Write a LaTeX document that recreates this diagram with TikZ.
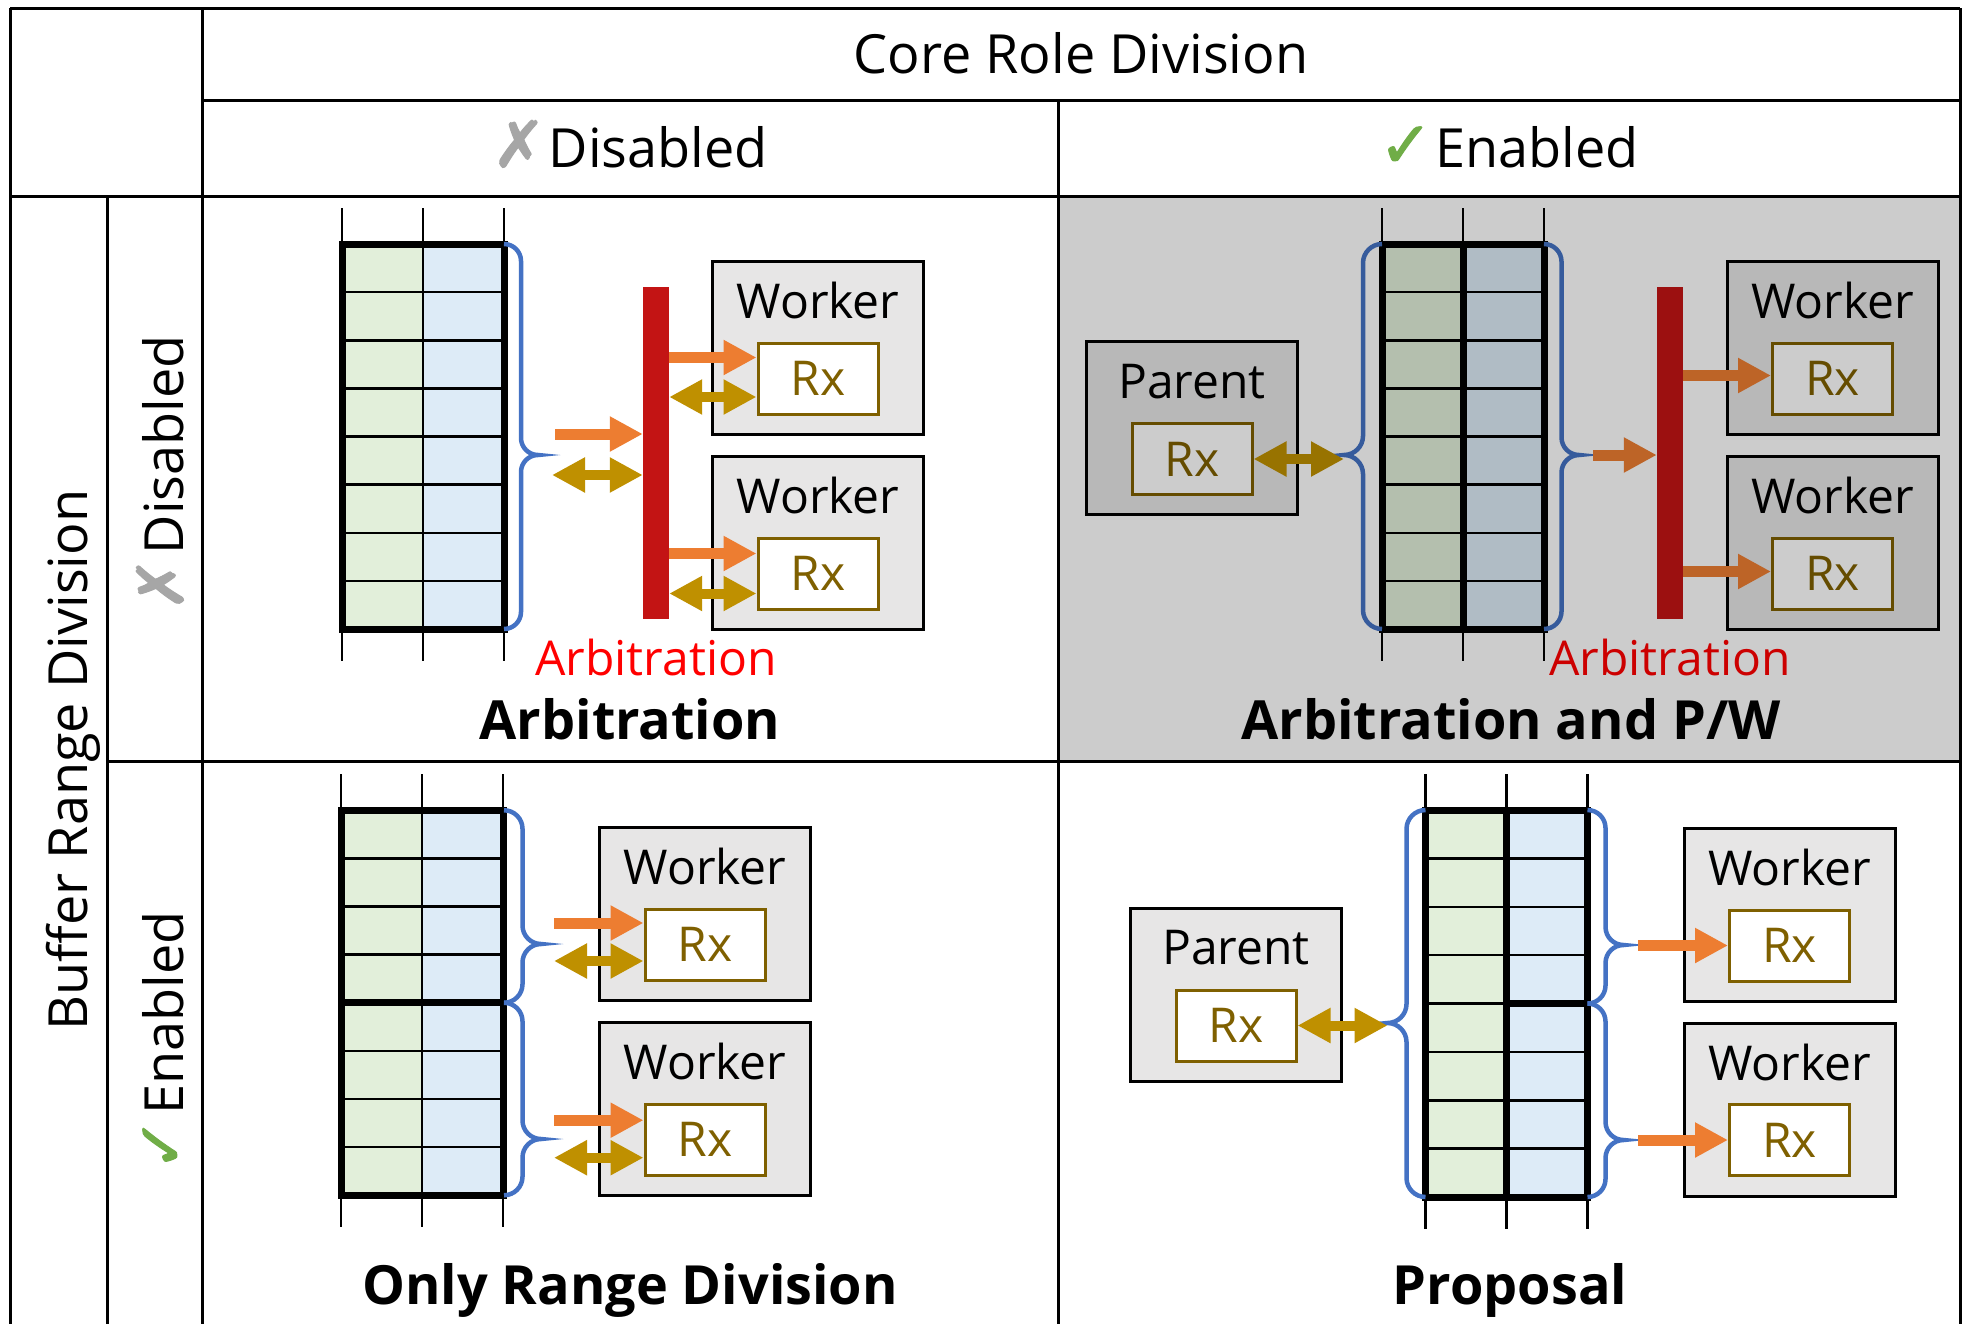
\documentclass[tikz,border=0pt]{standalone}
\usepackage{fontspec}
\setmainfont{Open Sans}
\newfontfamily\symbolfont[FakeBold=1.6]{DejaVu Sans}
\usetikzlibrary{arrows.meta,calc}

\definecolor{cellgreen}{RGB}{226,239,218}
\definecolor{cellblue}{RGB}{221,235,247}
\definecolor{bracecol}{RGB}{68,114,196}
\definecolor{arbred}{RGB}{195,20,20}
\definecolor{fwdorange}{RGB}{237,125,49}
\definecolor{syncgold}{RGB}{191,144,0}
\definecolor{rxbrown}{RGB}{127,96,0}
\definecolor{boxgray}{RGB}{231,230,230}
\definecolor{crossgray}{RGB}{166,166,166}
\definecolor{tickgreen}{RGB}{112,173,71}

\newcommand\cellfnt{\fontsize{48}{56}\selectfont}
\newcommand\hdrfnt{\fontsize{54}{62}\selectfont}
\newcommand\ttlfnt{\fontsize{54}{62}\selectfont\bfseries}
\newcommand\crossmk{{\symbolfont\fontsize{64}{64}\selectfont\color{crossgray}✗}\hspace{3pt}}
\newcommand\checkmk{{\symbolfont\fontsize{64}{64}\selectfont\color{tickgreen}✓}\hspace{3pt}}

\tikzset{
  grid line/.style={line width=3pt},
  cell line/.style={line width=2.5pt},
  buf border/.style={line width=7pt},
  buf tick/.style={line width=2.5pt},
  bufnode/.style={inner sep=0pt, outer sep=0pt, minimum width=162pt, minimum height=385pt},
  corebox/.style={draw, line width=3pt, fill=boxgray, inner sep=0pt,
    minimum width=211pt, minimum height=173pt},
  rxbox/.style={draw=rxbrown, line width=3pt, fill=white, text=rxbrown, inner sep=0pt,
    minimum width=120pt, minimum height=71pt, font=\cellfnt},
  arbbar/.style={fill=arbred, inner sep=0pt, minimum width=26pt, minimum height=332pt},
  brace/.style={draw=bracecol, line width=4.5pt},
  fwd/.style={draw=fwdorange, line width=11pt, -{Triangle[length=33pt,width=33pt]}},
  sync/.style={draw=syncgold, line width=10pt,
    {Triangle[length=33pt,width=33pt]}-{Triangle[length=33pt,width=33pt]}},
  label/.style={anchor=base, font=\cellfnt},
  title/.style={anchor=base, font=\ttlfnt},
  header/.style={anchor=base, font=\hdrfnt},
}

% cells, row lines and ticks of a two-column buffer
\newcommand\bufferbody[3]{%
  \fill[#2] (#1.north west) rectangle (#1.south);
  \fill[#3] (#1.north) rectangle (#1.south east);
  \foreach \k in {1,...,7}
    \draw[cell line] ($(#1.north west)!\k/8!(#1.south west)$) -- ($(#1.north east)!\k/8!(#1.south east)$);
  \foreach \a/\b in {north west/south west,north/south,north east/south east}{
    \draw[buf tick] (#1.\a) -- ++(0,-36);
    \draw[buf tick] (#1.\b) -- ++(0,32);
  }
}

% curly brace: edge x, top y, bottom y, tip y, signed half depth
\newcommand\bracepath[5]{%
  \pgfmathsetmacro\bx{#1}\pgfmathsetmacro\bh{#5}\pgfmathsetmacro\bv{abs(#5)}%
  \draw[brace] ({\bx},{#2})
    .. controls ({\bx+0.55*(\bh)},{#2}) and ({\bx+\bh},{#2+0.45*\bv}) .. ({\bx+\bh},{#2+\bv})
    -- ({\bx+\bh},{#4-\bv})
    .. controls ({\bx+\bh},{#4-0.45*\bv}) and ({\bx+1.45*(\bh)},{#4}) .. ({\bx+2*(\bh)},{#4})
    .. controls ({\bx+1.45*(\bh)},{#4}) and ({\bx+\bh},{#4+0.45*\bv}) .. ({\bx+\bh},{#4+\bv})
    -- ({\bx+\bh},{#3-\bv})
    .. controls ({\bx+\bh},{#3-0.45*\bv}) and ({\bx+0.55*(\bh)},{#3}) .. ({\bx},{#3});
}

\begin{document}
\begin{tikzpicture}[x=1pt,y=-1pt]
\useasboundingbox (0,0) rectangle (1968,1323);
\fill[white] (0,0) rectangle (1968,1323);

% ---------- Arbitration ----------
\path node[bufnode] (bufA) at (423,436.5) {};
\bufferbody{bufA}{cellgreen}{cellblue}
\draw[cell line] (bufA.north) -- (bufA.south);
\draw[buf border] (bufA.north west) rectangle (bufA.south east);
\bracepath{504}{244}{629}{455}{17}
\node[arbbar] (barA) at (656,453) {};
\coordinate (inA) at (555,434);
\coordinate (synA) at (552,475);
\draw[fwd] (inA) -- (inA -| barA.west);
\draw[sync] (synA) -- (synA -| barA.west);
\node[corebox] (wA1) at (818,347.5) {};
\node[corebox] (wA2) at (818,542.75) {};
\node[label] (wA1t) at ($(wA1.north)+(0,59)$) {Worker};
\node[label] (wA2t) at ($(wA2.north)+(0,59)$) {Worker};
\node[rxbox] (rA1) at (818,378.5) {Rx};
\node[rxbox] (rA2) at (818,573.5) {Rx};
\coordinate (fA1) at ([yshift=21pt]rA1.west);
\coordinate (sA1) at ([yshift=-18.5pt]rA1.west);
\coordinate (fA2) at ([yshift=20pt]rA2.west);
\coordinate (sA2) at ([yshift=-20pt]rA2.west);
\draw[fwd] (barA.east |- fA1) -- (fA1);
\draw[sync] (barA.east |- sA1) -- (sA1);
\draw[fwd] (barA.east |- fA2) -- (fA2);
\draw[sync] (barA.east |- sA2) -- (sA2);
\node[label, text=red] (arbA) at (656,675) {Arbitration};
\node[title] (ttlA) at (630,739) {Arbitration};

% ---------- Arbitration and P/W ----------
\path node[bufnode] (bufB) at (1463,436.5) {};
\bufferbody{bufB}{cellgreen}{cellblue}
\draw[buf border] (bufB.north) -- (bufB.south);
\draw[buf border] (bufB.north west) rectangle (bufB.south east);
\bracepath{1544}{244}{629}{455}{17.5}
\bracepath{1382}{244}{629}{455}{-19}
\coordinate (tipBL) at (1344,455);
\coordinate (tipBR) at (1579,455);
\node[corebox] (pB) at (1192,428) {};
\node[label] (pBt) at ($(pB.north)+(0,58)$) {Parent};
\node[rxbox] (rBp) at (1192,459) {Rx};
\draw[sync] (rBp.east) -- (tipBL |- rBp.east);
\node[arbbar] (barB) at (1670,453) {};
\coordinate (inB) at ([xshift=14pt]tipBR);
\draw[fwd] (inB) -- (inB -| barB.west);
\node[corebox] (wB1) at (1832.5,347.5) {};
\node[corebox] (wB2) at (1832.5,542.75) {};
\node[label] (wB1t) at ($(wB1.north)+(0,59)$) {Worker};
\node[label] (wB2t) at ($(wB2.north)+(0,59)$) {Worker};
\node[rxbox] (rB1) at (1832.5,378.5) {Rx};
\node[rxbox] (rB2) at (1832.5,573.5) {Rx};
\coordinate (fB1) at ([yshift=3pt]rB1.west);
\coordinate (fB2) at ([yshift=2pt]rB2.west);
\draw[fwd] (barB.east |- fB1) -- (fB1);
\draw[fwd] (barB.east |- fB2) -- (fB2);
\node[label, text=red] (arbB) at (1670,675) {Arbitration};
\node[title] (ttlB) at (1511,739) {Arbitration and P/W};
% shade of the whole cell
\fill[black, opacity=0.2] (1058,196) rectangle (1960,761);

% ---------- Only Range Division ----------
\path node[bufnode] (bufC) at (422,1002.75) {};
\bufferbody{bufC}{cellgreen}{cellblue}
\draw[cell line] (bufC.north) -- (bufC.south);
\draw[buf border] (bufC.west) -- (bufC.east);
\draw[buf border] (bufC.north west) rectangle (bufC.south east);
\bracepath{504}{810.25}{1002.75}{944}{18.5}
\bracepath{504}{1002.75}{1195.25}{1139}{18.5}
\node[corebox] (wC1) at (705,913.8) {};
\node[corebox] (wC2) at (705,1108.75) {};
\node[label] (wC1t) at ($(wC1.north)+(0,59)$) {Worker};
\node[label] (wC2t) at ($(wC2.north)+(0,59)$) {Worker};
\node[rxbox] (rC1) at (705,944.5) {Rx};
\node[rxbox] (rC2) at (705,1139.7) {Rx};
\coordinate (srcC) at (554,1002);
\coordinate (fC1) at ([yshift=21.5pt]rC1.west);
\coordinate (sC1) at ([yshift=-16.5pt]rC1.west);
\coordinate (fC2) at ([yshift=19.5pt]rC2.west);
\coordinate (sC2) at ([yshift=-18pt]rC2.west);
\draw[fwd] (srcC |- fC1) -- (fC1);
\draw[sync] (srcC |- sC1) -- (sC1);
\draw[fwd] (srcC |- fC2) -- (fC2);
\draw[sync] (srcC |- sC2) -- (sC2);
\node[title] (ttlC) at (630,1304) {Only Range Division};

% ---------- Proposal ----------
\path node[bufnode, minimum height=387pt] (bufD) at (1506.5,1003.5) {};
\bufferbody{bufD}{cellgreen}{cellblue}
\draw[buf border] (bufD.north) -- (bufD.south);
\draw[buf border] (bufD.center) -- (bufD.east);
\draw[buf border] (bufD.north west) rectangle (bufD.south east);
\bracepath{1425.5}{810}{1197}{1023}{-19}
\bracepath{1587.5}{810}{1003.5}{945}{18}
\bracepath{1587.5}{1003.5}{1197}{1140}{18}
\coordinate (tipDL) at (1387.5,1023);
\node[corebox] (pD) at (1236,994.5) {};
\node[label] (pDt) at ($(pD.north)+(0,58)$) {Parent};
\node[rxbox] (rDp) at (1236,1025.5) {Rx};
\draw[sync] (rDp.east) -- (tipDL |- rDp.east);
\node[corebox] (wD1) at (1789.5,914.5) {};
\node[corebox] (wD2) at (1789.5,1109.5) {};
\node[label] (wD1t) at ($(wD1.north)+(0,59)$) {Worker};
\node[label] (wD2t) at ($(wD2.north)+(0,59)$) {Worker};
\node[rxbox] (rD1) at (1789.5,945.5) {Rx};
\node[rxbox] (rD2) at (1789.5,1140) {Rx};
\coordinate (srcD) at (1638,1003);
\draw[fwd] (srcD |- rD1.west) -- (rD1.west);
\draw[fwd] (srcD |- rD2.west) -- (rD2.west);
\node[title] (ttlD) at (1510,1304) {Proposal};

% ---------- headers ----------
\node[header] (hCore) at (1081,73) {Core Role Division};
\node[header] (hDis) at (630,167) {\crossmk Disabled};
\node[header] (hEn) at (1509,167) {\checkmk Enabled};
\node[header, rotate=90] (vBuf) at (87,760) {Buffer Range Division};
\node[header, rotate=90] (vDis) at (183,473) {\crossmk Disabled};
\node[header, rotate=90] (vEn) at (183,1041) {\checkmk Enabled};

% ---------- table rules ----------
\draw[grid line] (10,8) -- (1960,8);
\draw[grid line] (10,8) -- (10,1330);
\draw[grid line] (1960,8) -- (1960,1330);
\draw[grid line] (202,8) -- (202,1330);
\draw[grid line] (202,100) -- (1960,100);
\draw[grid line] (10,196) -- (1960,196);
\draw[grid line] (107,196) -- (107,1330);
\draw[grid line] (1058,100) -- (1058,1330);
\draw[grid line] (107,761) -- (1960,761);
\end{tikzpicture}
\end{document}
